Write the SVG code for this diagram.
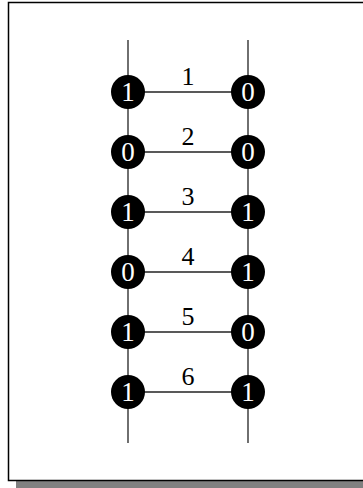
<svg xmlns="http://www.w3.org/2000/svg" width="363" height="488" viewBox="0 0 363 488">
<style>
.rail{stroke:#222;stroke-width:1.3;fill:none}
.rung{stroke:#222;stroke-width:1.3;fill:none}
.dot{fill:#000}
.bit{font-family:"Liberation Serif","Times New Roman",serif;font-size:27px;fill:#fff;text-anchor:middle}
.lbl{font-family:"Liberation Serif","Times New Roman",serif;font-size:26px;fill:#000;text-anchor:middle}
</style>
<rect x="0" y="0" width="363" height="488" fill="#fff"/>
<rect x="16" y="10" width="360" height="478" fill="#808080"/>
<rect x="8.5" y="2.5" width="360" height="478" fill="#fff" stroke="#000" stroke-width="1.5"/>
<g id="connectors">
<line class="rail" x1="128" y1="40" x2="128" y2="443"/>
<line class="rail" x1="248" y1="40" x2="248" y2="443"/>
<line class="rung" x1="128" y1="92" x2="248" y2="92"/>
<line class="rung" x1="128" y1="152" x2="248" y2="152"/>
<line class="rung" x1="128" y1="212" x2="248" y2="212"/>
<line class="rung" x1="128" y1="272" x2="248" y2="272"/>
<line class="rung" x1="128" y1="332" x2="248" y2="332"/>
<line class="rung" x1="128" y1="392" x2="248" y2="392"/>
</g>
<g id="labels">
<text class="lbl" x="188" y="85">1</text>
<text class="lbl" x="188" y="145">2</text>
<text class="lbl" x="188" y="205">3</text>
<text class="lbl" x="188" y="265">4</text>
<text class="lbl" x="188" y="325">5</text>
<text class="lbl" x="188" y="385">6</text>
</g>
<g id="L1"><circle class="dot" cx="128" cy="92" r="17"/><text class="bit" x="128" y="101">1</text></g>
<g id="R1"><circle class="dot" cx="248" cy="92" r="17"/><text class="bit" x="248" y="101">0</text></g>
<g id="L2"><circle class="dot" cx="128" cy="152" r="17"/><text class="bit" x="128" y="161">0</text></g>
<g id="R2"><circle class="dot" cx="248" cy="152" r="17"/><text class="bit" x="248" y="161">0</text></g>
<g id="L3"><circle class="dot" cx="128" cy="212" r="17"/><text class="bit" x="128" y="221">1</text></g>
<g id="R3"><circle class="dot" cx="248" cy="212" r="17"/><text class="bit" x="248" y="221">1</text></g>
<g id="L4"><circle class="dot" cx="128" cy="272" r="17"/><text class="bit" x="128" y="281">0</text></g>
<g id="R4"><circle class="dot" cx="248" cy="272" r="17"/><text class="bit" x="248" y="281">1</text></g>
<g id="L5"><circle class="dot" cx="128" cy="332" r="17"/><text class="bit" x="128" y="341">1</text></g>
<g id="R5"><circle class="dot" cx="248" cy="332" r="17"/><text class="bit" x="248" y="341">0</text></g>
<g id="L6"><circle class="dot" cx="128" cy="392" r="17"/><text class="bit" x="128" y="401">1</text></g>
<g id="R6"><circle class="dot" cx="248" cy="392" r="17"/><text class="bit" x="248" y="401">1</text></g>
</svg>
